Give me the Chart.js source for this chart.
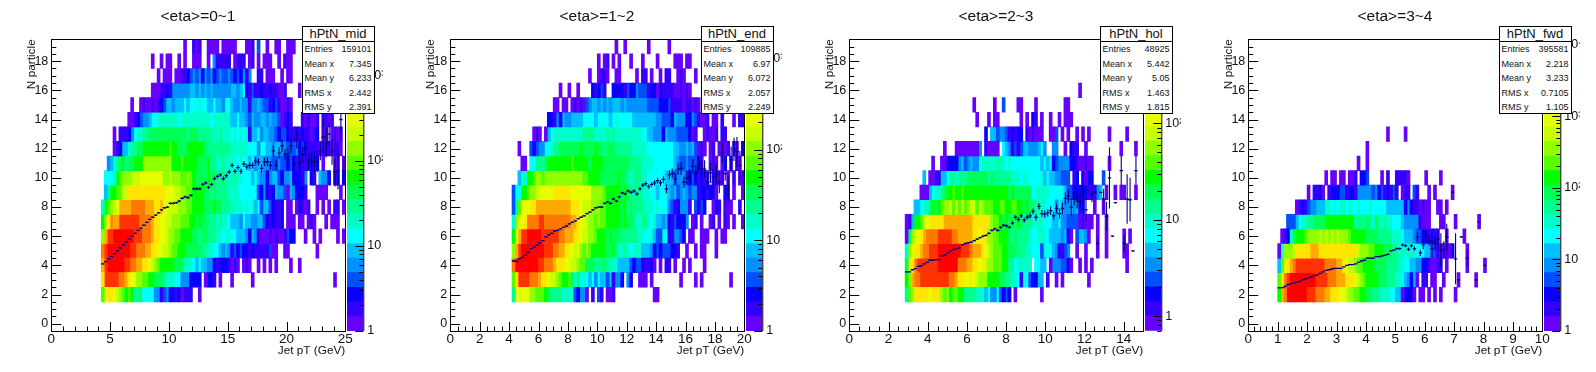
<!DOCTYPE html>
<html>
<head>
<meta charset="utf-8">
<title>hPtN</title>
<script src="https://cdn.jsdelivr.net/npm/chart.js@4/dist/chart.umd.js"></script>
<style>
  body { margin: 0; background: #fff; font-family: "Liberation Sans", sans-serif; }
  #page { position: relative; width: 1596px; height: 372px; overflow: hidden; }
  .panel { position: absolute; top: 0; width: 399px; height: 372px; }
  .panel canvas { position: absolute; top: 0; }
  .title { position: absolute; left: 0; width: 396px; top: 7px; text-align: center; font-size: 15.5px; color: #111; }
  .stats { position: absolute; left: 301.5px; top: 26px; width: 73px; height: 88px; box-sizing: border-box;
           border: 1px solid #000; background: #fff; font-size: 9px; color: #111; }
  .stats .name { text-align: center; font-size: 13px; height: 14px; line-height: 14px; border-bottom: 1px solid #000; }
  .stats .row { display: flex; justify-content: space-between; padding: 0 2px; height: 14.5px; line-height: 15px; }
</style>
</head>
<body>
<div id="page"></div>
<script>
// each row is one N particle value, first row is y=2. "bin:levels", level is palette band 0-j, 100 x bins
const firstRow = 2;

const midRows = [
  "17:beffedcbaba88966664413422120 45:111 50:0",
  "17:fiiiiihhgfeeccbbaa9998777664442222 52:0221 57:0 61:0 68:0 96:0",
  "17:gijjjjjjiihhggffedcbaaaaa9997776565544212221010 65:010 70:0 72:0 74:0 76:0 81:0 84:0",
  "17:hijjjjjjjjiihhhggffeeddcbbaaa999998877665454 61:132322121111130 76:0 79:00 90:0",
  "17:cgiijjjjjjjiiihhhgffeedccbbaaaa99899888776776655542541000101001322 86:0 89:0 91:0 97:0 99:0",
  "17:adfhggiiiiiiihhhhgffeeddcccbbbaa9a9988878776555465544553212112 80:000 84:00 87:010 93:0 95:000",
  "17:7abcdegggghhhhhgggffgeedddcccbbaaaa999a99888777767675635532112 80:00 83:02 85:101 90:0 92:0 94:0 96:11 99:0",
  "18:58aabbddfffffffffffffeeeddccbbaaaa99898888777766666632421254430 81:542 84:221 90:0 91:000 98:0",
  "18:6667abcccdddeeeeeeeeccdcccbbcba9999a9988887787766656544245532445222 85:14 88:21 91:544 94:2 96:12 99:2",
  "19:45789a899aaaccccccccccaaabaaaaa999a8877877776767564554443343323212111212 92:0 96:01 99:0",
  "21:0125578899aaaaaaaaabaa999aaaaaa988888888777777666466554554433342321212 86:211 90:1012101 97:10",
  "21:0 23:11124677889999999999999899988888778777676767155645544323321121211012 92:01 95:0101",
  "26:00123445667777777677777777776777777556554354455454430121 85:101001 92:1101",
  "27:0 30:0100101235545556566676655655466544544144543312310010",
  "34:000 37:1121 41:444444 47:5545 51:4545 55:4444445545621311211211001 84:0",
  "36:0 38:000 42:00 44:112 47:3434 51:24342 56:343343 62:2324 66:14 70:11 73:000 78:0 80:00",
  "34:0 37:0 39:00 43:0 45:0 48:000 53:0 55:411111 62:0111 67:01 70:0 72:000 77:0 79:100",
  "45:0 48:101 53:0000 58:00000 66:001 70:3 73:0 76:00 80:000"
];

const endRows = [
  "21:8eeeeeccbbba9888877773244 46:0 48:1 50:31 53:001 69:00",
  "21:bfiiiihhhgffeddcbaab979676564655351442 60:4 61:2 64:000 68:0 78:0 83:0 85:0 95:0",
  "21:hjjjjjjjjiihhhgfffeeddcbb999888987775555323321120 71:0 73:11 76:0 79:0 81:0 86:0",
  "21:cgijjjjjjjjiiihhggffedecbcbaaaaa99a8778767775554232333221 80:0 83:0 85:00 90:0",
  "21:aegiijjjjjiiiiiihhgggffeddccbaaa9a99988888877667533762145 76:54 78:3 79:2 81:00 85:000 90:0 92:00",
  "21:7ceefhhhhiihhhhhhhhhggfeedccbcbbaaaaa9a998778876755452132224 82:0 83:1 85:0 88:01 91:0 93:10 96:0 99:0",
  "21:38beeeffggggggggggggfffedddcccbbaaaaa9a8988887776766643124441 83:3 84:1 85:32 89:021 93:100 98:1",
  "21:366aabccdeeeeeffffffeeeeeeeccccbaaaaa9a9888877766566754534543441221220 93:21 96:0 99:0",
  "23:577aabccbcccccccccccccbbaaaa999999a998788877666666555344432321211 89:1 90:201 94:0 96:1 98:0 99:1",
  "24:00 27:668889aaaaaaaabaaaaa9aaaa9999999998888777766666665433433321 88:0 89:10 92:02 95:1 97:10",
  "23:0 27:3234466788999999 43:9a9999a9989998888887777766666666655445453021 85:10 88:01 91:0101 96:10 99:2",
  "28:010 32:0567777777777888877778787777777776655444254443333201 86:01 88:00 90:1 92:11",
  "33:22142544555566665666656766666555555554433325444224310 85:1 86:01 89:00 92:1 96:0 98:11",
  "35:00 38:00 41:01010345545454555454444444333322231111011010",
  "37:0 40:0 43:0 48:21231 55:222213224333122021111001010",
  "47:0 50:0110 56:00 63:0 65:11 68:0 71:0 73:11 77:010 83:0",
  "50:0 52:01 55:0 57:0 61:0 65:0 70:0 76:000 80:00",
  "56:0 59:0 67:0 74:0"
];

const holRows = [
  "19:8bcfffffefffcbcabbaa8888777 46:564463232 56:0 65:0",
  "19:acghhiiiiiiiiiihhgffeefedcccaaaa998877616632255 67:1 70:0 72:0 81:0",
  "19:9efhiiiiiiijjjjjjjhhhggffefdccbbbaa88677777 63:6655 68:0444332 75:0 78:0 80:0 82:0 94:0",
  "19:7ceffghhiiijjjjjjjjiiihgggfedcbbbaa99988877666376654 71:1134 77:0 80:0 84:0 87:0 93:00",
  "19:09ceefghhhhiiiiihhgggggffeffccbbaaa9898888766777655554520 77:3554 81:0 84:0 87:0 93:0 95:0",
  "19:015aabdefffffggggggggggffffffcbba9a999a9888777766655644333301000 84:0 87:0",
  "22:556779a9abccdbdbdbcddbdcbbbaabbaabbaa9a9887776664654454512 83:0 86:0",
  "24:000567789aabaabaaaaaaaaaaaaaaa9a9999996777776666653322222111 84:4 85:5 87:0 90:0 92:00 97:0",
  "25:5 27:001155688788899999998988888877767766667565544333 76:12 79:2022 86:3",
  "28:0 31:0022224534544677777877676666666666565623444422100100 88:0",
  "32:0 36:00000000 44:4 46:100 49:00 52:654131355444564 69:44 73:0 75:211 80:0 92:0 97:0",
  "46:2 48:55344312122 60:10100 65:0 68:003 72:0 74:0 77:0 79:0 81:0 88:0 94:0",
  "43:0 47:0 49:00 58:0 60:0 62:21 65:0 68:0 71:0 73:000",
  "42:0 49:0 52:3 57:00 63:0 73:00",
  "78:0"
];

const fwdRows = [
  "10:aghjjjjjjjiiihhhggfffeedccbbaa99888777665502220 58:00 61:0 63:0 65:0 70:0",
  "10:bfhijjjjjjjjjiiiihhhgggfffedcbaaaa99988877654250 59:11 62:00 66:0 71:0 77:0",
  "10:5befghiiiiiiiiiihhhhggfeddcbbaaaa99998888776655442210011 67:0 74:0 80:0",
  "10:06cccdfffffgggfffffffffffffdcccbbaaa999887777776665533100102 74:0",
  "11:01279aaabccccdcdcdcdcccbaaaaa9999888887776555433221211 67:0 73:0",
  "13:3335677889999aaaaaaaaaa88889879878776665444441000 65:00 70:0 78:0",
  "16:0121344555776767767667666766666555555242110100 64:00 67:0",
  "20:0 22:1120 27:122233122144444342312131 52:011 56:31 61:0 63:0 69:0",
  "26:0 28:00 31:00 34:001 38:223 45:0 47:1 50:1111 54:0 60:0 65:0",
  "37:0 40:0",
  "40:0",
  "47:0 53:0"
];

// profile: mean N per x bin and its error, first entry is the start bin
const midMeanStart = 17;
const midMeans = [4.1,4.25,4.45,4.6,4.8,5,5.2,5.4,5.6,5.8,6,6.2,6.4,6.55,6.75,6.95,7.15,7.3,7.45,7.6,7.8,7.95,8,
  8.25,8.25,8.3,8.4,8.6,8.7,8.65,8.8,9.25,9.25,9.25,9.55,9.65,9.35,9.55,9.95,10.1,10.2,9.95,10.15,10.4,10.85,
  10.45,10.7,10.45,10.95,10.75,10.85,10.85,11.15,11.1,10.65,11.1,11.1,10.85,11.85,10.85,11.7,12.2,11.6,11.65,12.2,
  11,12.6,11,11.6,12,11.1,11.2,11.1,11.1,11.8,12.8,12.4,13,11.8,10.4,10.5,14,10.5];
const midErrs = [.03,.03,.03,.03,.03,.03,.03,.03,.03,.03,.03,.03,.03,.03,.04,.04,.04,.04,.05,.05,.05,.05,.06,
  .06,.07,.07,.08,.08,.09,.1,.1,.1,.1,.1,.1,.11,.11,.12,.12,.13,.13,.14,.14,.15,
  .15,.15,.18,.18,.2,.2,.22,.22,.25,.25,.28,.28,.3,.3,.35,.35,.4,.45,.4,.45,
  .5,.5,.6,.5,.55,.6,.55,.6,.7,.7,.6,1.1,1,.8,.9,1,1.3,.9,1];

const endMeanStart = 21;
const endMeans = [4.3,4.28,4.45,4.55,4.7,4.9,5.15,5.25,5.4,5.55,5.7,5.95,6.1,6.2,6.35,6.4,6.5,6.6,6.7,6.85,6.95,7.05,7.2,7.3,
  7.4,7.55,7.65,7.8,7.95,8,8,8.25,8.35,8.25,8.55,8.4,8.7,8.97,8.9,9.1,9,9.1,8.9,9.25,9.5,
  9.6,9.4,9.55,9.65,9.8,9.65,9.9,9.25,10.2,10.3,9.9,10.6,10.65,9.7,10,10.05,10.8,10.35,10.95,10.65,
  10.6,9.7,10.35,10.05,10.25,9.7,11.7,10.3,9.25,11.25,11.95,11.8,10.85];
const endErrs = [.03,.03,.03,.03,.03,.03,.03,.03,.03,.03,.03,.03,.04,.04,.04,.04,.04,.04,.04,.04,.05,.05,.05,.05,.05,.05,
  .06,.06,.06,.06,.06,.06,.07,.07,.08,.08,.09,.09,.1,.1,.11,.12,.12,.13,.14,.15,.15,.15,.18,.2,.2,.25,.3,.3,.35,.4,.4,.45,.4,.45,.45,
  .5,.5,.5,.55,.6,.55,.7,.6,.7,.75,.7,.5,.9,.9,.8,1,1,1.2];

const holMeanStart = 19;
const holMeans = [3.55,3.55,3.7,3.78,3.93,3.96,4.1,4.2,4.35,4.35,4.4,4.4,4.65,4.7,4.85,5,5.1,5.15,5.2,5.4,
  5.5,5.55,5.6,5.7,5.8,5.9,6,6.05,6.2,6.4,6.5,6.4,6.6,6.75,6.7,6.6,6.9,7.3,7.15,7.4,7.1,
  7.3,7.4,7.7,7.3,8.05,7.55,7.5,7.6,7.75,7.4,7.9,7.55,7.9,8.6,
  8.75,8,8.55,8.4,8.4,8.9,7.8,null,8.85,9,5.5,9,8.55,7.35,10,6,8.3,null,10.5,5.5,8.55,8.5,5,10.5];
const holErrs = [.03,.03,.03,.03,.03,.03,.03,.03,.03,.03,.03,.03,.03,.04,.04,.04,.04,.04,.05,.05,
  .05,.05,.05,.06,.06,.06,.07,.07,.07,.08,.08,.09,.09,.1,.1,.11,.12,.13,.14,.15,
  .16,.18,.2,.2,.22,.22,.24,.26,.26,.3,.3,.32,.35,.4,.42,
  .45,.6,.45,.5,.5,.55,.8,null,.5,.05,.5,.05,.7,1,2.1,.05,.05,null,1,.6,1.7,1.5,.05,1];

const fwdMeanStart = 10;
const fwdMeans = [2.45,2.47,2.55,2.67,2.75,2.8,2.85,2.9,3,3.08,3.15,3.2,3.3,3.35,3.45,3.55,3.65,3.7,3.75,3.8,
  3.8,3.8,3.9,4,4.05,4.05,4.1,4.2,4.3,4.35,4.5,4.5,4.5,4.6,4.6,4.65,4.7,4.75,5,5.05,
  5.15,5.15,5.4,5.35,5.1,5.35,5.15,5.95,4.85,5.4,6.05,5.7,5.15,5.5,5.8,5.05,5.05,5.95,
  null,9,4.45,3,5.95,null,4.5,null,null,3,7,null,4];
const fwdErrs = [.01,.01,.01,.01,.01,.01,.01,.01,.01,.01,.01,.01,.01,.01,.01,.01,.01,.01,.01,.01,
  .01,.01,.01,.01,.01,.01,.01,.01,.01,.01,.02,.02,.03,.03,.03,.04,.04,.05,.05,.06,
  .07,.08,.1,.1,.12,.12,.15,.3,.2,.3,.35,.35,.6,.5,.65,1.15,.6,.9,
  null,.05,1.75,.05,.05,null,.6,null,null,.05,.05,null,.05];

const histTitles = ['<eta>=0~1', '<eta>=1~2', '<eta>=2~3', '<eta>=3~4'];
const histNames = ['hPtN_mid', 'hPtN_end', 'hPtN_hol', 'hPtN_fwd'];
const statLabels = ['Entries', 'Mean x', 'Mean y', 'RMS x', 'RMS y'];
const midStats = ['159101', '7.345', '6.233', '2.442', '2.391'];
const endStats = ['109885', '6.97', '6.072', '2.057', '2.249'];
const holStats = ['48925', '5.442', '5.05', '1.463', '1.815'];
const fwdStats = ['395581', '2.218', '3.233', '0.7105', '1.105'];

const xMaxes = [25, 20, 15, 10];
const xMajorSteps = [5, 2, 2, 1];
const xMinorSteps = [1, 0.5, 0.5, 0.2];
const yTicks = [0, 2, 4, 6, 8, 10, 12, 14, 16, 18];
const zMins = [1, 1, 0.71, 1];
const zMaxs = [2700, 1650, 740, 12000];
const zTicks = [1, 10, 100, 1000, 10000];
const zLabels = ['1', '10', '10\u00b2', '10\u00b3', '10\u2074'];

const palette = ['#6600ff', '#3300ff', '#0a00ff', '#0050ff', '#0090ff', '#00bfff', '#00ffff', '#00ffc8', '#00ff8c', '#00ff55',
  '#00ff00', '#55ff00', '#90ff00', '#c8ff00', '#e6ff00', '#ffe600', '#ffaa00', '#ff7800', '#ff3200', '#ff0000'];

const xTickFont = { family: 'Liberation Sans', size: 13.5 };
const yTickFont = { family: 'Liberation Sans', size: 12.5 };
const titleFont = { family: 'Liberation Sans', size: 11.8 };

// turn the row strings into one list of floating bars per palette band
function cellsByLevel(rows, xMax) {
    var levels = palette.map(function() { return []; });
    rows.forEach(function(row, r) {
        var y = firstRow + r;
        row.split(' ').forEach(function(part) {
            var bits = part.split(':');
            var bin = parseInt(bits[0], 10);
            for (var i = 0; i < bits[1].length; i++) {
                var level = parseInt(bits[1][i], 20);
                levels[level].push({ x: (bin + i + 0.5) * xMax / 100, y: [y - 0.5, y + 0.5] });
            }
        });
    });
    return levels;
}

// frame and the inside ticks, ROOT style
const frameTicks = {
    id: 'frameTicks',
    afterDatasetsDraw: function(chart, args, opts) {
        var ctx = chart.ctx, a = chart.chartArea, xs = chart.scales.x, ys = chart.scales.y;
        ctx.save();
        ctx.strokeStyle = '#000';
        ctx.lineWidth = 1;
        ctx.beginPath();
        var n = Math.round(opts.xMax / opts.xMinor);
        for (var i = 0; i <= n; i++) {
            var v = i * opts.xMinor;
            var major = Math.abs(v / opts.xMajor - Math.round(v / opts.xMajor)) < 1e-6;
            var px = Math.round(xs.getPixelForValue(v)) + 0.5;
            ctx.moveTo(px, a.bottom);
            ctx.lineTo(px, a.bottom - (major ? 9 : 4.5));
        }
        for (var k = 0; k <= 40; k++) {
            var yv = -0.5 + k * 0.5;
            var ymajor = k > 0 && (k - 1) % 4 === 0;
            var py = Math.round(ys.getPixelForValue(yv)) + 0.5;
            ctx.moveTo(a.left, py);
            ctx.lineTo(a.left + (ymajor ? 10 : 5), py);
        }
        ctx.stroke();
        ctx.strokeRect(Math.round(a.left) + 0.5, Math.round(a.top) + 0.5, Math.round(a.right - a.left), Math.round(a.bottom - a.top));
        ctx.restore();
    }
};

// log ticks going left from the right side of the colour bar
const zTickMarks = {
    id: 'zTickMarks',
    afterDatasetsDraw: function(chart) {
        var ctx = chart.ctx, a = chart.chartArea, zs = chart.scales.y;
        ctx.save();
        ctx.strokeStyle = '#000';
        ctx.beginPath();
        for (var d = 0.1; d < zs.max; d *= 10) {
            for (var m = 1; m < 10; m++) {
                var v = d * m;
                if (v < zs.min || v > zs.max) continue;
                var py = Math.round(zs.getPixelForValue(v)) + 0.5;
                ctx.moveTo(a.right, py);
                ctx.lineTo(a.right - (m === 1 ? 8 : 4), py);
            }
        }
        ctx.moveTo(a.right + 0.5, a.top);
        ctx.lineTo(a.right + 0.5, a.bottom);
        ctx.stroke();
        ctx.restore();
    }
};

function drawPanel(p, index) {
    var panel = document.createElement('div');
    panel.className = 'panel';
    panel.style.left = (index * 399) + 'px';
    document.getElementById('page').appendChild(panel);

    var canvas = document.createElement('canvas');
    canvas.width = 399;
    canvas.height = 372;
    canvas.style.left = '0';
    panel.appendChild(canvas);

    var datasets = cellsByLevel(p.rows, p.xMax).map(function(cells, level) {
        return { type: 'bar', data: cells, backgroundColor: palette[level], barThickness: 3, grouped: false, order: 5 };
    });

    var errBars = [], points = [];
    p.means.forEach(function(m, i) {
        if (m === null) return;
        var x = (p.meanStart + i + 0.5) * p.xMax / 100;
        var e = p.errs[i] || 0;
        errBars.push({ x: x, y: [m - e, m + e] });
        points.push({ x: x, y: m });
    });
    datasets.push({ type: 'bar', data: errBars, backgroundColor: '#000080', barThickness: 1.1, grouped: false, inflateAmount: 0, order: 2 });
    datasets.push({ type: 'scatter', data: points, showLine: false, pointStyle: 'line', pointRadius: 1.7,
        pointBorderColor: '#000080', pointBorderWidth: 1.3, order: 1 });

    var xTicks = [];
    for (var t = 0; t <= p.xMax; t += p.xMajor) xTicks.push(t);

    new Chart(canvas, {
        type: 'bar',
        data: { datasets: datasets },
        plugins: [frameTicks],
        options: {
            responsive: false,
            animation: false,
            events: [],
            layout: { padding: { top: 39.3, right: 53.7, left: 0, bottom: 0 } },
            plugins: {
                legend: { display: false },
                tooltip: { enabled: false },
                frameTicks: { xMax: p.xMax, xMajor: p.xMajor, xMinor: p.xMinor }
            },
            scales: {
                x: {
                    type: 'linear', min: 0, max: p.xMax, offset: false,
                    grid: { display: false, drawTicks: false },
                    border: { display: false },
                    afterFit: function(s) { s.height = 41; },
                    afterBuildTicks: function(s) { s.ticks = xTicks.map(function(v) { return { value: v }; }); },
                    ticks: { font: xTickFont, color: '#111', padding: 0, maxRotation: 0, autoSkip: false },
                    title: { display: true, text: 'Jet pT (GeV)', align: 'end', font: titleFont, color: '#111', padding: { top: 0, bottom: 14 } }
                },
                y: {
                    type: 'linear', min: -0.5, max: 19.5,
                    grid: { display: false, drawTicks: false },
                    border: { display: false },
                    afterFit: function(s) { s.width = 51.3; },
                    afterBuildTicks: function(s) { s.ticks = yTicks.map(function(v) { return { value: v }; }); },
                    ticks: { font: yTickFont, color: '#111', padding: 3, autoSkip: false },
                    title: { display: true, text: 'N particle', align: 'end', font: titleFont, color: '#111', padding: { top: 25, bottom: 0 } }
                }
            }
        }
    });

    // colour bar, its own small chart, cut at the pad edge like the original
    var barCanvas = document.createElement('canvas');
    barCanvas.width = 36;
    barCanvas.height = 372;
    barCanvas.style.left = '347px';
    panel.appendChild(barCanvas);

    var bands = palette.map(function(c, i) {
        var lo = p.zMin * Math.pow(p.zMax / p.zMin, i / palette.length);
        var hi = p.zMin * Math.pow(p.zMax / p.zMin, (i + 1) / palette.length);
        return { data: [[lo, hi]], backgroundColor: c, grouped: false, barPercentage: 1, categoryPercentage: 1 };
    });

    new Chart(barCanvas, {
        type: 'bar',
        data: { labels: ['z'], datasets: bands },
        plugins: [zTickMarks],
        options: {
            responsive: false,
            animation: false,
            events: [],
            layout: { padding: { top: 39.3, bottom: 41, left: 0, right: 0 } },
            plugins: { legend: { display: false }, tooltip: { enabled: false } },
            scales: {
                x: { display: false },
                y: {
                    type: 'logarithmic', position: 'right', min: p.zMin, max: p.zMax,
                    grid: { display: false, drawTicks: false },
                    border: { display: false },
                    afterFit: function(s) { s.width = 19.7; },
                    afterBuildTicks: function(s) {
                        s.ticks = zTicks.filter(function(v) { return v >= p.zMin && v <= p.zMax; }).map(function(v) { return { value: v }; });
                    },
                    ticks: {
                        font: yTickFont, color: '#111', padding: 4, autoSkip: false,
                        callback: function(v) { return zLabels[zTicks.indexOf(v)]; }
                    }
                }
            }
        }
    });

    var title = document.createElement('div');
    title.className = 'title';
    title.textContent = p.title;
    panel.appendChild(title);

    var box = document.createElement('div');
    box.className = 'stats';
    var html = '<div class="name">' + p.name + '</div>';
    statLabels.forEach(function(label, i) {
        html += '<div class="row"><span>' + label + '</span><span>' + p.stats[i] + '</span></div>';
    });
    box.innerHTML = html;
    panel.appendChild(box);
}

const panels = [
    { rows: midRows, means: midMeans, errs: midErrs, meanStart: midMeanStart, stats: midStats },
    { rows: endRows, means: endMeans, errs: endErrs, meanStart: endMeanStart, stats: endStats },
    { rows: holRows, means: holMeans, errs: holErrs, meanStart: holMeanStart, stats: holStats },
    { rows: fwdRows, means: fwdMeans, errs: fwdErrs, meanStart: fwdMeanStart, stats: fwdStats }
];

panels.forEach(function(p, i) {
    p.title = histTitles[i];
    p.name = histNames[i];
    p.xMax = xMaxes[i];
    p.xMajor = xMajorSteps[i];
    p.xMinor = xMinorSteps[i];
    p.zMin = zMins[i];
    p.zMax = zMaxs[i];
    drawPanel(p, i);
});
</script>
</body>
</html>
